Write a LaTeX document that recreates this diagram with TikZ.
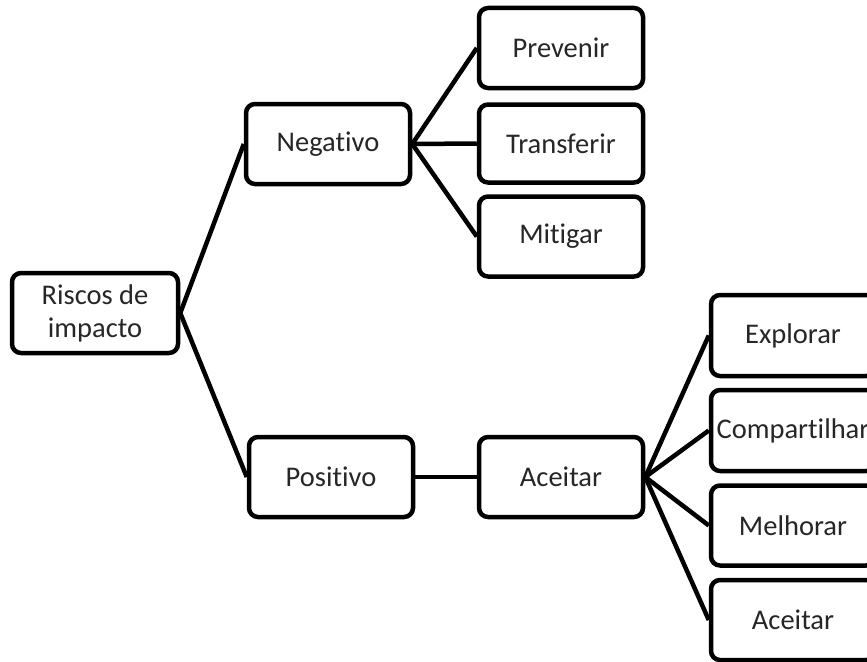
\documentclass[tikz,border=0pt]{standalone}
\usepackage{fontspec}
\setmainfont[Ligatures={NoCommon,NoRare}]{Carlito}
\begin{document}
\begin{tikzpicture}[x=1pt,y=-1pt,
  box/.style={draw=black, line width=4.5pt, rounded corners=9pt, fill=white,
    minimum width=164pt, minimum height=80pt, inner sep=0pt, align=center,
    font=\fontsize{28.5}{33}\selectfont, text=black!85},
  conn/.style={draw=black, line width=4.5pt}]
\useasboundingbox (0,0) rectangle (867,661);
\clip (0,0) rectangle (867,661);
\fill[white] (0,0) rectangle (867,661);
\node[box, minimum width=166pt] (risk) at (95,313) {Riscos de\\impacto};
\node[box] (neg) at (328,144) {Negativo};
\node[box] (pos) at (331,477) {Positivo};
\node[box] (acc) at (561,477) {Aceitar};
\node[box] (prev) at (561,48) {Prevenir};
\node[box, minimum height=78pt] (trans) at (561,143.5) {Transferir};
\node[box] (mit) at (561,236.5) {Mitigar};
\node[box, minimum height=81pt] (expl) at (793,335.5) {Explorar};
\node[box, minimum height=81pt] (comp) at (793,430.5) {Compartilhar};
\node[box] (melh) at (793,525.5) {Melhorar};
\node[box] (acc2) at (793,620) {Aceitar};
\draw[conn] (risk.east) -- (neg.west);
\draw[conn] (risk.east) -- (pos.west);
\draw[conn] (neg.east) -- (prev.west);
\draw[conn] (neg.east) -- (trans.west);
\draw[conn] (neg.east) -- (mit.west);
\draw[conn] (pos.east) -- (acc.west);
\draw[conn] (acc.east) -- (expl.west);
\draw[conn] (acc.east) -- (comp.west);
\draw[conn] (acc.east) -- (melh.west);
\draw[conn] (acc.east) -- (acc2.west);
\end{tikzpicture}
\end{document}
